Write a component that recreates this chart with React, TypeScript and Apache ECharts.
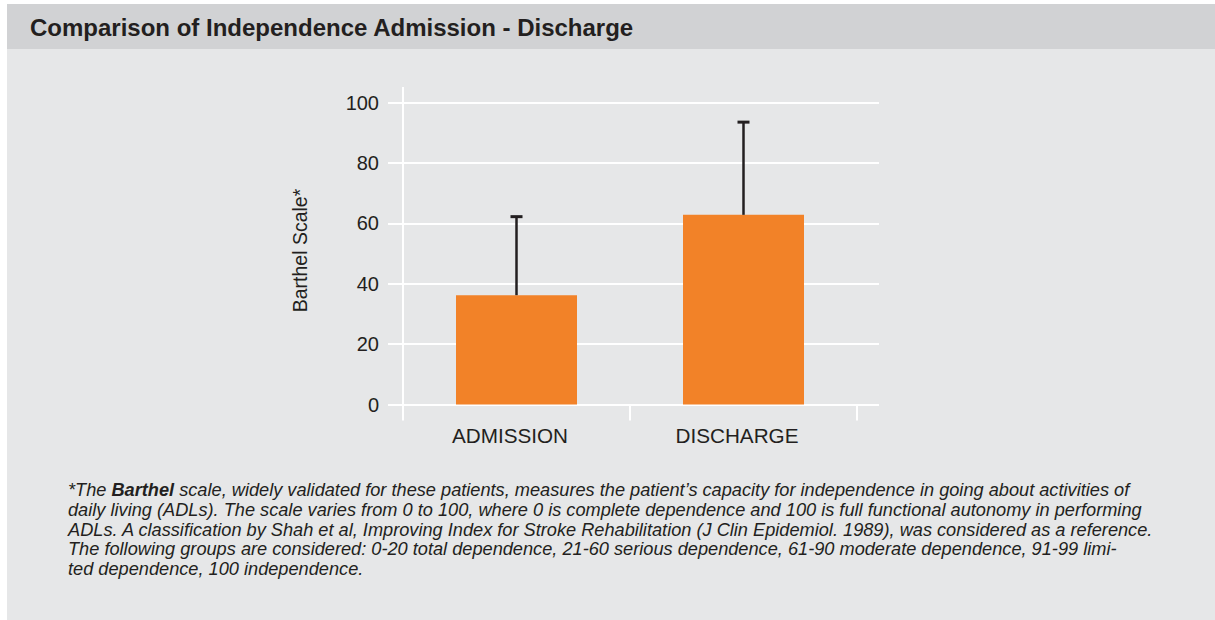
import React, { useEffect, useRef } from "react";
import * as echarts from "echarts";

const categories = ["ADMISSION", "DISCHARGE"];
const means = [36.2, 62.8];
const sds = [26.0, 30.7];
const yTicks = { min: 0, max: 100, interval: 20 };

const titleText = "Comparison of Independence Admission - Discharge";
const yAxisName = "Barthel Scale*";
const footnoteLines = [
  "*The {b|Barthel} scale, widely validated for these patients, measures the patient\u2019s capacity for independence in going about activities of",
  "daily living (ADLs). The scale varies from 0 to 100, where 0 is complete dependence and 100 is full functional autonomy in performing",
  "ADLs. A classification by Shah et al, Improving Index for Stroke Rehabilitation (J Clin Epidemiol. 1989), was considered as a reference.",
  "The following groups are considered: 0-20 total dependence, 21-60 serious dependence, 61-90 moderate dependence, 91-99 limi-",
  "ted dependence, 100 independence.",
];

const FONT = "'Liberation Sans', Arial, Helvetica, sans-serif";
const INK = "#231f20";
const ORANGE = "#f28228";

export default function App() {
  const ref = useRef<HTMLDivElement>(null);
  useEffect(() => {
    document.body.style.margin = "0";
    if (!ref.current) return;
    const chart = echarts.init(ref.current, undefined, { renderer: "svg" });

    const gridTop = 102.5;
    const gridH = 302;
    const gridLeft = 403;
    const FN = 18.2;

    const footnote = footnoteLines.map((t, i) => ({
      type: "text",
      z: 10,
      style: {
        text: t,
        x: 68,
        y: 490 + i * 19.8,
        fill: INK,
        fontSize: FN,
        fontFamily: FONT,
        fontStyle: "italic",
        align: "left",
        textAlign: "left",
        verticalAlign: "middle",
        textVerticalAlign: "middle",
        rich: {
          b: {
            fontSize: FN,
            fontFamily: FONT,
            fontStyle: "italic",
            fontWeight: "bold",
            fill: INK,
            color: INK,
          },
        },
      },
    }));

    const option: any = {
      animation: false,
      backgroundColor: "#ffffff",
      graphic: [
        { type: "rect", z: -10, shape: { x: 7, y: 4, width: 1208, height: 45 }, style: { fill: "#d1d2d4" } },
        { type: "rect", z: -10, shape: { x: 7, y: 49, width: 1208, height: 571 }, style: { fill: "#e6e7e8" } },
        {
          type: "text",
          z: 10,
          style: {
            text: titleText,
            x: 30,
            y: 27.5,
            fill: INK,
            fontSize: 24,
            fontWeight: "bold",
            fontFamily: FONT,
            align: "left",
            textAlign: "left",
            verticalAlign: "middle",
            textVerticalAlign: "middle",
          },
        },
        {
          type: "line",
          z: 5,
          shape: { x1: gridLeft, y1: 87, x2: gridLeft, y2: gridTop + 1 },
          style: { stroke: "#ffffff", lineWidth: 2 },
        },
        ...footnote,
      ],
      grid: [
        { left: gridLeft, top: gridTop, width: 476, height: gridH },
        { left: gridLeft, top: gridTop, width: 454, height: gridH },
      ],
      xAxis: [
        { gridIndex: 0, type: "value", min: 0, max: 1, show: false },
        {
          gridIndex: 1,
          type: "category",
          data: categories,
          boundaryGap: true,
          axisLine: { show: false },
          axisTick: { show: true, length: 16, interval: 0, lineStyle: { color: "#ffffff", width: 2 } },
          axisLabel: { fontSize: 20.7, color: INK, fontFamily: FONT, margin: 20, padding: [0, 13, 0, 0] },
        },
      ],
      yAxis: [
        {
          gridIndex: 0,
          type: "value",
          min: yTicks.min,
          max: yTicks.max,
          interval: yTicks.interval,
          name: yAxisName,
          nameLocation: "middle",
          nameRotate: 90,
          nameGap: 93,
          nameTextStyle: { fontSize: 19.5, color: INK, fontFamily: FONT, padding: [0, 0, 0, 6] },
          axisLine: { show: true, lineStyle: { color: "#ffffff", width: 2 } },
          axisTick: { show: true, length: 15, lineStyle: { color: "#ffffff", width: 2 } },
          axisLabel: { fontSize: 20, color: INK, fontFamily: FONT, margin: 24 },
          splitLine: { show: true, lineStyle: { color: "#ffffff", width: 2 } },
        },
        { gridIndex: 1, type: "value", min: yTicks.min, max: yTicks.max, interval: yTicks.interval, show: false },
      ],
      series: [
        {
          type: "bar",
          xAxisIndex: 1,
          yAxisIndex: 1,
          data: means,
          barWidth: 121,
          itemStyle: { color: ORANGE },
          z: 3,
        },
        {
          type: "custom",
          xAxisIndex: 1,
          yAxisIndex: 1,
          z: 4,
          data: means.map((m, i) => [i, m, m + sds[i]]),
          renderItem: (params: any, api: any) => {
            const x = api.value(0);
            const lo = api.coord([x, api.value(1)]);
            const hi = api.coord([x, api.value(2)]);
            return {
              type: "group",
              children: [
                {
                  type: "line",
                  shape: { x1: lo[0], y1: lo[1], x2: hi[0], y2: hi[1] },
                  style: { stroke: INK, lineWidth: 2.5 },
                },
                {
                  type: "line",
                  shape: { x1: hi[0] - 6, y1: hi[1], x2: hi[0] + 6, y2: hi[1] },
                  style: { stroke: INK, lineWidth: 3 },
                },
              ],
            };
          },
        },
      ],
    };
    chart.setOption(option);
    return () => chart.dispose();
  }, []);
  return <div ref={ref} style={{ width: 1215, height: 620 }} />;
}
